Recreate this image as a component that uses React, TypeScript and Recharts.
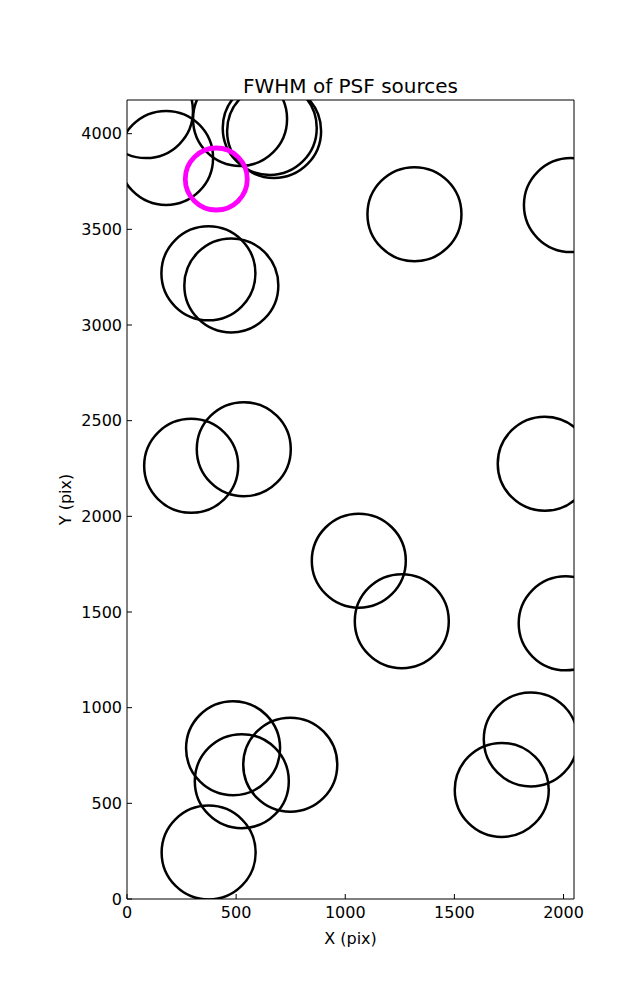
import { ScatterChart, Scatter, XAxis, YAxis } from "recharts";

// PSF sources on the chip, pixel coordinates
const sourceX = [87, 179, 518, 654, 674, 373, 478, 1317, 2034, 294, 535, 1914, 1062, 1259, 2010, 486, 526, 748, 374, 1850, 1717];
const sourceY = [4118, 3873, 4077, 4030, 4014, 3270, 3207, 3579, 3627, 2264, 2351, 2275, 1768, 1452, 1441, 788, 616, 702, 243, 834, 570];

// highlighted source (magenta)
const flaggedX = [409];
const flaggedY = [3763];

const xTicks = [0, 500, 1000, 1500, 2000];
const yTicks = [0, 500, 1000, 1500, 2000, 2500, 3000, 3500, 4000];
const xMax = 2048;
const yMax = 4176;

const sources = sourceX.map((x, i) => ({ x, y: sourceY[i] }));
const flagged = flaggedX.map((x, i) => ({ x, y: flaggedY[i] }));

const tickStyle = { fontSize: 16, fill: "#000" };

function ring(r: number, color: string, width: number) {
  return (props: any) => (
    <circle cx={props.cx} cy={props.cy} r={r} fill="none" stroke={color} strokeWidth={width} />
  );
}

function TitleLabel(props: any) {
  const vb = props.viewBox;
  return (
    <text x={vb.x + vb.width / 2} y={vb.y - 6} textAnchor="middle" fontSize={20} fill="#000">
      FWHM of PSF sources
    </text>
  );
}

function XLabel(props: any) {
  const vb = props.viewBox;
  return (
    <text x={vb.x + vb.width / 2} y={vb.y + 45} textAnchor="middle" fontSize={16} fill="#000">
      X (pix)
    </text>
  );
}

function YLabel(props: any) {
  const vb = props.viewBox;
  const x = vb.x + 4;
  const y = vb.y + vb.height / 2;
  return (
    <text x={x} y={y} textAnchor="middle" fontSize={16} fill="#000" transform={`rotate(-90 ${x} ${y})`}>
      Y (pix)
    </text>
  );
}

export default function App() {
  return (
    <div
      style={{
        position: "absolute",
        left: 0,
        top: 0,
        width: 637,
        height: 1000,
        background: "#fff",
        fontFamily: "DejaVu Sans",
      }}
    >
      <ScatterChart width={637} height={1000} margin={{ top: 99, right: 62, bottom: 71, left: 67 }}>
        <XAxis
          type="number"
          dataKey="x"
          domain={[0, xMax]}
          ticks={xTicks}
          allowDataOverflow
          height={30}
          tickSize={-5}
          tickMargin={13}
          tick={tickStyle}
          axisLine={{ stroke: "#000" }}
          tickLine={{ stroke: "#000" }}
          label={<XLabel />}
        />
        <XAxis
          xAxisId="top"
          orientation="top"
          type="number"
          domain={[0, xMax]}
          ticks={xTicks}
          height={1}
          tickSize={-5}
          tick={false}
          axisLine={{ stroke: "#000" }}
          tickLine={{ stroke: "#000" }}
          label={<TitleLabel />}
        />
        <YAxis
          type="number"
          dataKey="y"
          domain={[0, yMax]}
          ticks={yTicks}
          allowDataOverflow
          width={60}
          tickSize={-5}
          tickMargin={10}
          tick={tickStyle}
          axisLine={{ stroke: "#000" }}
          tickLine={{ stroke: "#000" }}
          label={<YLabel />}
        />
        <YAxis
          yAxisId="right"
          orientation="right"
          type="number"
          domain={[0, yMax]}
          ticks={yTicks}
          width={1}
          tickSize={-5}
          tick={false}
          axisLine={{ stroke: "#000" }}
          tickLine={{ stroke: "#000" }}
        />
        <Scatter data={sources} shape={ring(47, "#000", 2.5)} isAnimationActive={false} />
        <Scatter data={flagged} shape={ring(31, "#ff00ff", 4.8)} isAnimationActive={false} />
      </ScatterChart>
    </div>
  );
}
